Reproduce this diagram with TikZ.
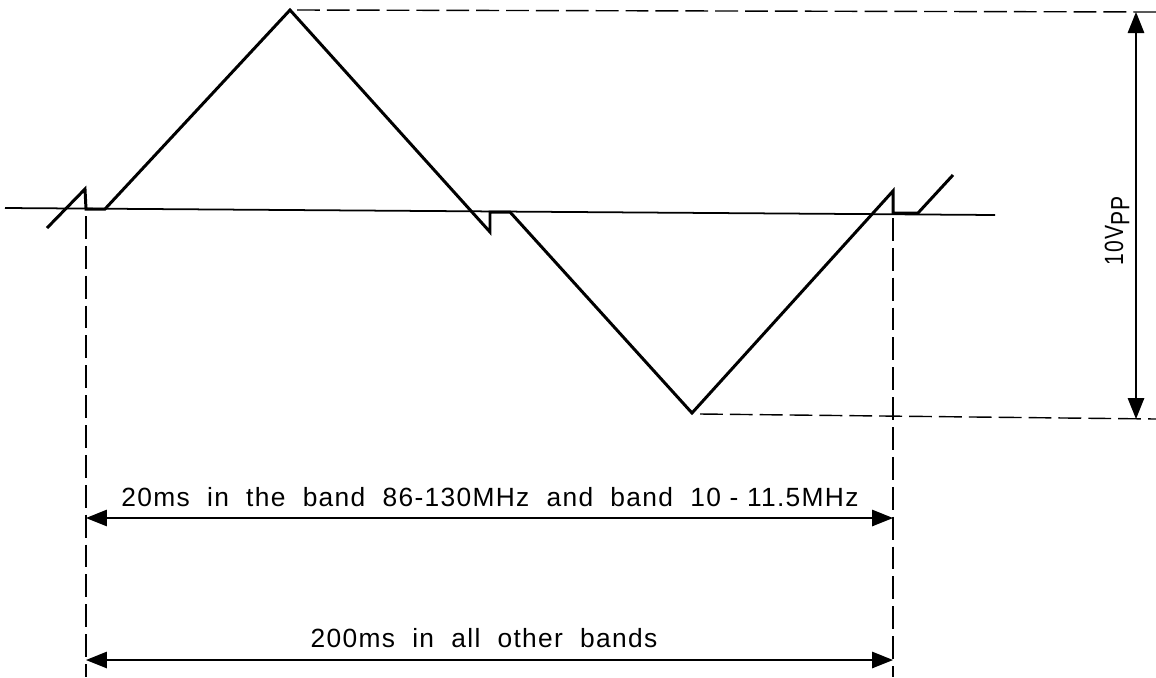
\documentclass[tikz,border=0pt]{standalone}
\usepackage{fontspec}
\setmainfont{Liberation Sans}
\usetikzlibrary{arrows.meta}

\begin{document}
\begin{tikzpicture}[x=0.02cm,y=-0.02cm,
  wave/.style={line width=1.7pt,line join=miter},
  axis/.style={line width=1pt},
  hilfs/.style={line width=0.8pt,dash pattern=on 13pt off 4pt},
  mass/.style={line width=0.8pt,{Triangle[length=4.2mm,width=3.3mm]}-{Triangle[length=4.2mm,width=3.3mm]}},
  lbl/.style={font=\fontsize{15}{18}\selectfont\addfontfeature{LetterSpace=5},inner sep=0pt}]
\useasboundingbox (0,0) rectangle (1156,677);
% nulllinie
\draw[axis] (5,208) -- (995,215);
% signalverlauf
\draw[wave] (47,228) -- (85,189) -- (86,209) -- (105,209) -- (290,10)
  -- (490,232) -- (490,212) -- (510,212) -- (692,413) -- (893,191)
  -- (893,213) -- (918,213) -- (953,175);
% hilfslinien
\draw[hilfs] (297,10) -- (1156,12);
\draw[hilfs] (700,414) -- (1156,419);
\draw[hilfs] (86,216) -- (86,677);
\draw[hilfs] (893,218) -- (893,677);
% bemassung
\coordinate (oben) at (1136,12);
\coordinate (unten) at (1136,419);
\coordinate (a1) at (86,518);
\coordinate (b1) at (893,518);
\coordinate (a2) at (86,660);
\coordinate (b2) at (893,660);
\draw[mass] (oben) -- (unten);
\draw[mass] (a1) -- (b1);
\draw[mass] (a2) -- (b2);
\node[lbl,rotate=90] (upp) at (1117,231) {\scalebox{0.8}[1]{10V\raisebox{-0.45ex}{PP}}};
\node[lbl] (t1) at (490,497) {20ms\ \ in\ \ the\ \ band\ \ 86-130MHz\ \ and\ \ band\ \ 10 - 11.5MHz};
\node[lbl] (t2) at (484,638) {200ms\ \ in\ \ all\ \ other\ \ bands};
\end{tikzpicture}
\end{document}
